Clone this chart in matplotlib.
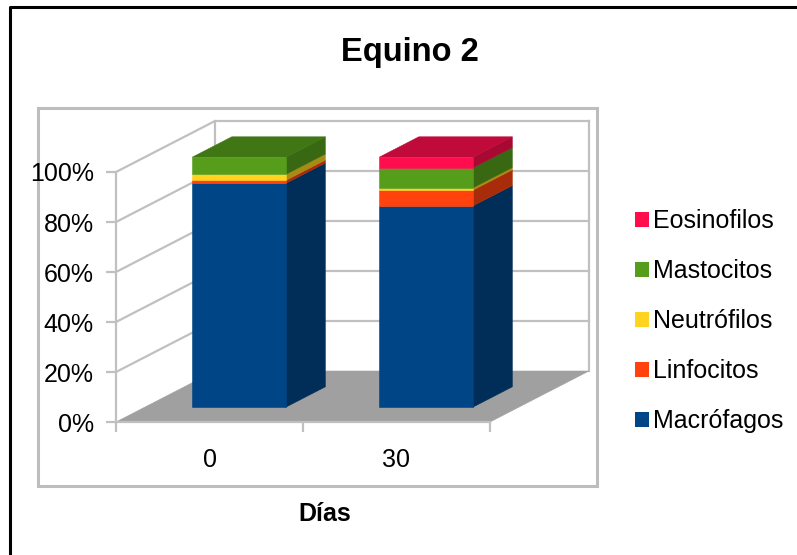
import matplotlib
matplotlib.use("Agg")
import matplotlib.pyplot as plt
from matplotlib.patches import Patch, Polygon, Rectangle

plt.rcParams["font.family"] = ["Liberation Sans", "DejaVu Sans"]

categories = ["0", "30"]
series_names = ["Macrófagos", "Linfocitos", "Neutrófilos", "Mastocitos", "Eosinofilos"]
macrofagos = [89.5, 80.5]
linfocitos = [1.2, 6.3]
neutrofilos = [2.4, 0.9]
mastocitos = [6.9, 8.0]
eosinofilos = [0.0, 4.3]
series_values = [macrofagos, linfocitos, neutrofilos, mastocitos, eosinofilos]
series_colors = ["#004586", "#ff420e", "#ffd320", "#579d1c", "#ff0d4d"]
y_ticks = [0, 20, 40, 60, 80, 100]

W, H = 797, 555
GRID = "#c0c0c0"


def shade(color, k):
    rgb = matplotlib.colors.to_rgb(color)
    return tuple(c * k for c in rgb)


fig = plt.figure(figsize=(W / 100, H / 100), dpi=100)

# outer border and chart area, in pixels
bg = fig.add_axes([0, 0, 1, 1], zorder=0)
bg.set_xlim(0, W)
bg.set_ylim(H, 0)
bg.axis("off")
bg.plot([10, 10, W + 5], [H + 5, 6.5, 6.5], color="black", lw=2.2)
bg.add_patch(Rectangle((38, 108), 559, 378, fc="white", ec="#bdbdbd", lw=2.2))

# front plane of the 3D box: 2 categories across, 0-100 % up
ax = fig.add_axes([116 / W, 1 - 422 / H, 374 / W, 250 / H], zorder=1)
ax.set_xlim(0, 2)
ax.set_ylim(0, 100)
ax.patch.set_alpha(0)

# depth of the box in data units
depth_x = 99 / 374 * 2
depth_y = 51 / 250 * 100


def proj(x, v, d):
    return (x + depth_x * d, v + depth_y * d)


def poly(points, color, z):
    ax.add_patch(Polygon(points, closed=True, fc=color, ec=color, lw=0.4,
                         clip_on=False, zorder=z))


# floor
poly([proj(0, 0, 0), proj(2, 0, 0), proj(2, 0, 1), proj(0, 0, 1)], "#a0a0a0", 2)

# walls and gridlines
for v in y_ticks[1:]:
    pts = [proj(0, v, 0), proj(0, v, 1), proj(2, v, 1)]
    ax.plot(*zip(*pts), color=GRID, lw=1.6, clip_on=False, zorder=1)
for x in [0, 2]:
    pts = [proj(x, 0, 1), proj(x, 100, 1)]
    ax.plot(*zip(*pts), color=GRID, lw=1.6, clip_on=False, zorder=1)

# stacked bars, each segment gets a front and a side face, the last one a lid
for i in range(len(categories)):
    bar_left = i + 0.254
    bar_right = bar_left + 0.5
    d0, d1 = 0.29, 0.69
    base = 0.0
    for vals, col in zip(series_values, series_colors):
        top = base + vals[i]
        if vals[i] > 0:
            poly([proj(bar_left, base, d0), proj(bar_right, base, d0),
                  proj(bar_right, top, d0), proj(bar_left, top, d0)], col, 5)
            poly([proj(bar_right, base, d0), proj(bar_right, base, d1),
                  proj(bar_right, top, d1), proj(bar_right, top, d0)], shade(col, 0.66), 4)
            last = col
        base = top
    poly([proj(bar_left, base, d0), proj(bar_right, base, d0),
          proj(bar_right, base, d1), proj(bar_left, base, d1)], shade(last, 0.75), 4)

# axes
ax.set_xticks([0, 1, 2])
ax.set_xticklabels([])
ax.set_xticks([0.5, 1.5], minor=True)
ax.set_xticklabels(categories, minor=True, fontsize=18)
ax.tick_params(axis="x", which="minor", length=0, pad=19)
ax.tick_params(axis="x", which="major", length=7, width=1.6, color=GRID)
ax.set_yticks(y_ticks)
ax.set_yticklabels([f"{v}%" for v in y_ticks], fontsize=18)
ax.tick_params(axis="y", length=7, width=1.6, color=GRID, pad=9)
for s in ["top", "right"]:
    ax.spines[s].set_visible(False)
for s in ["left", "bottom"]:
    ax.spines[s].set_color(GRID)
    ax.spines[s].set_linewidth(1.6)

fig.text(410 / W, 1 - 53 / H, "Equino 2", fontsize=23.5, fontweight="bold",
         ha="center", va="center")
fig.text(325 / W, 1 - 514 / H, "Días", fontsize=18, fontweight="bold",
         ha="center", va="center")

handles = [Patch(fc=c, ec="none") for c in series_colors[::-1]]
fig.legend(handles, series_names[::-1], loc="upper left",
           bbox_to_anchor=(630 / W, 1 - 204 / H), frameon=False, fontsize=18,
           labelspacing=1.04, handlelength=0.55, handleheight=0.55,
           handletextpad=0.16, borderpad=0.2, borderaxespad=0)

fig.savefig("out.png", dpi=100)
